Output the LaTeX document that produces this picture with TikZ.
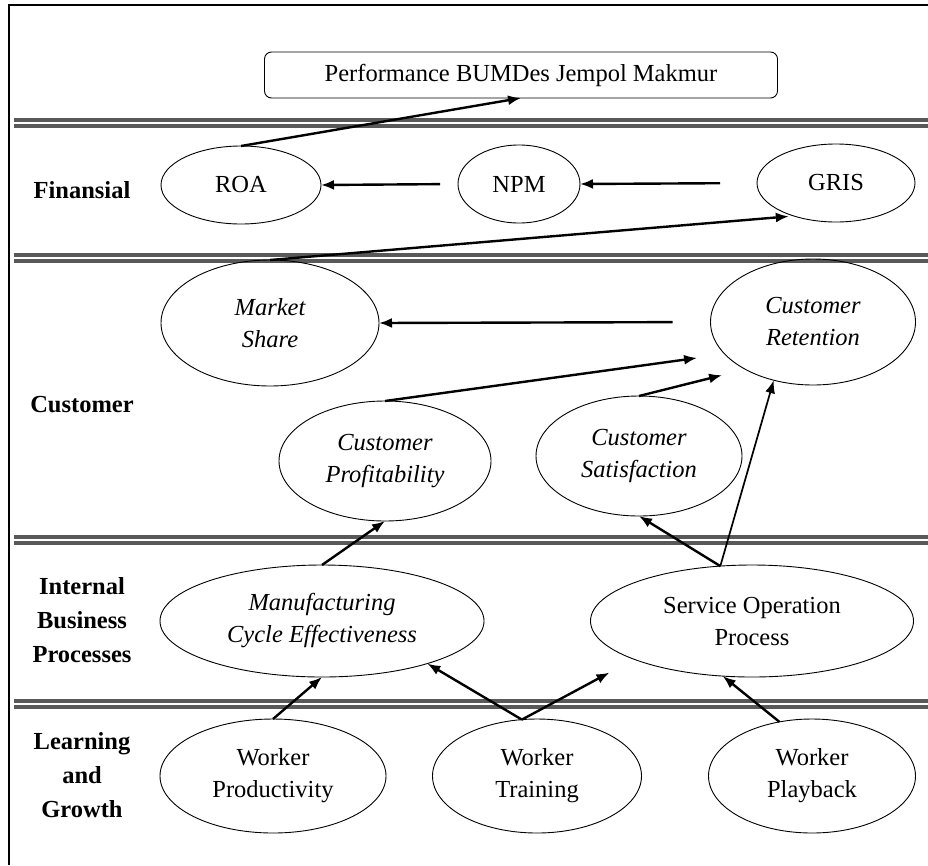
\documentclass[tikz,border=0pt]{standalone}
\usepackage{fontspec}
\setmainfont{Liberation Serif}
\usetikzlibrary{shapes.geometric, arrows.meta, positioning}

\tikzset{
  goal/.style={draw, ellipse, line width=0.9pt, inner sep=0pt, outer sep=0pt, align=center, font=\fontsize{24.5}{32}\selectfont},
  perspective/.style={font=\bfseries\fontsize{24.5}{34}\selectfont, align=center},
  link/.style={->, line width=2.4pt, >={Latex[length=13pt,width=10pt]}},
  separator/.style={double, line width=4.5pt, double distance=1.7pt, draw=black!65}
}

\begin{document}
\begin{tikzpicture}[x=1pt, y=-1pt]
  \useasboundingbox (0,0) rectangle (928,865);

  % frame and perspective separators
  \draw[line width=1.5pt] (9,865) -- (9,5) -- (928,5);
  \foreach \ypos in {123, 258, 540, 704}
    \draw[separator] (14,\ypos) -- (928,\ypos);

  \node[draw, rounded corners=7pt, line width=0.9pt, minimum width=513pt, minimum height=46pt, outer sep=0pt, font=\fontsize{24.5}{32}\selectfont] (perf) at (521,75) {Performance BUMDes Jempol Makmur};

  % perspective labels
  \node[perspective] (lfin) at (82,190) {Finansial};
  \node[perspective] (lcus) at (82,405) {Customer};
  \node[perspective] (libp) at (82,620) {Internal\\Business\\Processes};
  \node[perspective] (llag) at (82,775) {Learning\\and\\Growth};

  % financial
  \node[goal, minimum width=160pt, minimum height=78pt] (roa)  at (241,185) {ROA};
  \node[goal, minimum width=122pt, minimum height=78pt] (npm)  at (519,184) {NPM};
  \node[goal, minimum width=158pt, minimum height=78pt] (gris) at (836,183) {GRIS};

  % customer
  \node[goal, minimum width=218pt, minimum height=126pt] (mshare) at (270,323) {\itshape Market\\\itshape Share};
  \node[goal, minimum width=205pt, minimum height=126pt] (cret)   at (813,322) {\itshape Customer\\\itshape Retention};
  \node[goal, minimum width=212pt, minimum height=120pt] (cprof)  at (385,461) {\itshape Customer\\\itshape Profitability};
  \node[goal, minimum width=206pt, minimum height=120pt] (csat)   at (639,456) {\itshape Customer\\\itshape Satisfaction};

  % internal business processes
  \node[goal, minimum width=324pt, minimum height=112pt] (mce) at (322,621) {\itshape Manufacturing\\\itshape Cycle Effectiveness};
  \node[goal, minimum width=323pt, minimum height=112pt] (sop) at (752,621) {Service Operation\\Process};

  % learning and growth
  \node[goal, minimum width=226pt, minimum height=114pt] (wprod)  at (273,776) {Worker\\Productivity};
  \node[goal, minimum width=209pt, minimum height=114pt] (wtrain) at (537,776) {Worker\\Training};
  \node[goal, minimum width=207pt, minimum height=114pt] (wplay)  at (812,776) {Worker\\Playback};

  % links
  \draw[link] (roa.north) -- (perf.south);
  \draw[link, shorten <=18pt] (npm.west) -- (roa.east);
  \draw[link, shorten <=37pt] (gris.west) -- (npm.east);
  \draw[link, shorten >=5pt] (mshare.north) -- (gris.218);
  \draw[link, shorten <=38pt] (cret.west) -- (mshare.east);
  \draw[link, shorten >=28pt] (cprof.north) -- (cret.200);
  \draw[link, shorten >=24pt] (csat.north) -- (cret.215);
  \draw[link, line width=1.7pt] (sop.120) -- (cret.236);
  \draw[link] (sop.120) -- (csat.south);
  \draw[link] (mce.north) -- (cprof.south);
  \draw[link] (wprod.north) -- (mce.south);
  \draw[link] (wtrain.105) -- (mce.-22);
  \draw[link, shorten >=28pt] (wtrain.105) -- (sop.198);
  \draw[link] (wplay.121) -- (sop.242);
\end{tikzpicture}
\end{document}
